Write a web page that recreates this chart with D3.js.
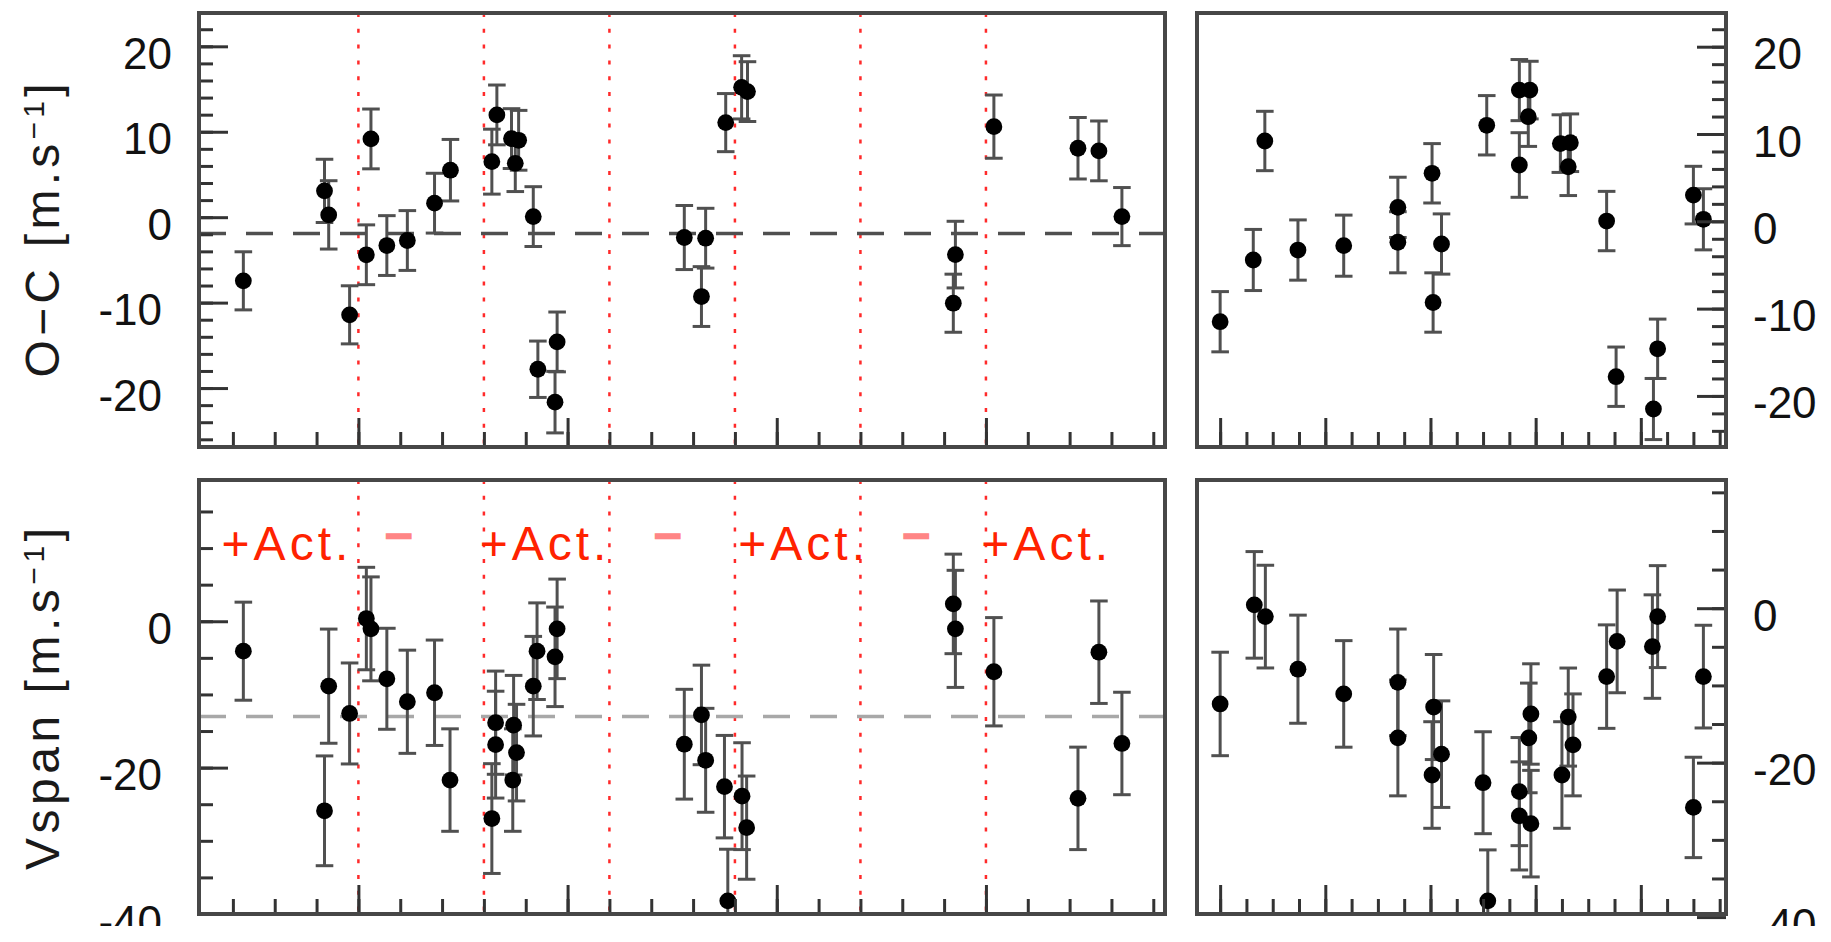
<!DOCTYPE html>
<html>
<head>
<meta charset="utf-8">
<script src="https://cdn.jsdelivr.net/npm/d3@7"></script>
<style>
  body { margin: 0; background: #fff; }
  svg { display: block; }
</style>
</head>
<body>
<svg id="chart"></svg>
<script>
// O-C residuals against time (top left)
const ocTime  = [-27.5, -8.1, -7.1, -2.1, 1.9, 3.0, 6.8, 11.7, 18.2, 22.0, 31.9, 33.1, 36.6, 38.3, 37.5, 41.8, 42.9, 47.5, 47.0,
                 77.9, 83.0, 82.0, 87.8, 91.6, 93.0, 142.7, 142.2, 151.9, 172.0, 177.0, 182.5];
const ocValue = [-7.45, 3.08, 0.27, -11.43, -4.4, 9.16, -3.32, -2.73, 1.64, 5.5, 6.5, 11.97, 9.2, 9.0, 6.3, 0.07, -17.8, -14.6, -21.65,
                 -2.38, -2.46, -9.29, 11.07, 15.2, 14.7, -4.38, -10.07, 10.6, 8.07, 7.76, 0.07];
const ocError = [3.4, 3.7, 4.0, 3.4, 3.5, 3.5, 3.5, 3.5, 3.5, 3.6, 3.8, 3.5, 3.5, 3.5, 3.3, 3.5, 3.3, 3.5, 3.6,
                 3.75, 3.5, 3.5, 3.4, 3.7, 3.5, 3.9, 3.4, 3.7, 3.6, 3.5, 3.4];

// Vspan against time (bottom left)
const spanTime  = [-27.5, -7.1, -8.1, -2.1, 1.9, 3.0, 6.8, 11.7, 18.2, 21.9, 31.9, 32.8, 32.8, 37.1, 37.8, 36.9, 41.8, 42.7, 47.5, 47.0,
                   77.9, 82.0, 83.0, 87.5, 88.3, 91.7, 92.8, 142.2, 142.7, 151.9, 172.0, 177.0, 182.5];
const spanValue = [-4.09, -8.87, -25.9, -12.6, 0.37, -1.04, -7.86, -11.0, -9.77, -21.7, -26.96, -13.86, -16.86, -14.2, -17.95, -21.7, -8.87, -4.09, -1.04, -4.86,
                   -16.8, -12.8, -19.0, -22.6, -38.2, -23.9, -28.2, 2.37, -1.04, -6.9, -24.2, -4.23, -16.7];
const spanError = [6.7, 7.8, 7.5, 6.9, 7.0, 7.1, 6.9, 7.05, 7.2, 7.0, 7.5, 7.05, 7.3, 6.8, 6.6, 7.0, 6.8, 6.6, 6.8, 6.8,
                   7.5, 6.8, 7.1, 7.0, 7.05, 7.3, 7.05, 6.8, 8.0, 7.4, 7.0, 7.0, 7.0];

// O-C folded on phase (top right)
const ocPhase      = [0.0, 0.063, 0.085, 0.148, 0.235, 0.338, 0.338, 0.403, 0.421, 0.405, 0.507, 0.569, 0.589, 0.586, 0.569,
                      0.647, 0.666, 0.662, 0.735, 0.753, 0.832, 0.824, 0.9, 0.919];
const ocPhaseValue = [-11.5, -4.43, 9.2, -3.29, -2.79, 1.6, -2.4, 5.5, -2.6, -9.3, 11.0, 15.03, 15.03, 11.98, 6.45,
                      8.9, 9.0, 6.25, 0.03, -17.8, -14.6, -21.5, 3.0, 0.23];
const ocPhaseError = [3.45, 3.5, 3.4, 3.45, 3.5, 3.45, 3.5, 3.4, 3.45, 3.4, 3.4, 3.5, 3.3, 3.4, 3.7,
                      3.3, 3.3, 3.3, 3.4, 3.4, 3.4, 3.5, 3.3, 3.5];

// Vspan folded on phase (bottom right)
const spanPhase      = [0.0, 0.065, 0.086, 0.148, 0.235, 0.338, 0.338, 0.406, 0.421, 0.403, 0.5, 0.509, 0.569, 0.569, 0.591,
                        0.591, 0.587, 0.65, 0.662, 0.671, 0.735, 0.755, 0.822, 0.832, 0.919, 0.9];
const spanPhaseValue = [-12.4, 0.43, -1.09, -7.9, -11.1, -9.6, -16.8, -12.8, -18.9, -21.6, -22.6, -37.9, -23.75, -26.9, -27.9,
                        -13.7, -16.8, -21.6, -14.1, -17.7, -8.86, -4.3, -4.97, -1.09, -8.86, -25.8];
const spanPhaseError = [6.7, 6.9, 6.65, 7.0, 6.9, 6.9, 7.5, 6.8, 6.9, 6.9, 6.6, 6.6, 7.0, 7.0, 6.9,
                        6.5, 7.1, 6.9, 6.35, 6.6, 6.7, 6.65, 6.7, 6.6, 6.65, 6.5];

// axes
const timeDomain = [-38.1, 192.8];
const phaseDomain = [-0.044, 0.962];
const ocDomain = [-26.9, 23.9];
const ocPhaseDomain = [-25.85, 23.86];
const spanDomain = [-40, 19.3];
const spanPhaseDomain = [-39.6, 16.6];
const timeMajor = [0, 50, 100, 150];
const timeMinor = d3.range(-30, 191, 10);
const phaseMajor = [0, 0.2, 0.4, 0.6, 0.8];
const phaseMinor = d3.range(0, 20).map(i => i * 0.05);
const ocLabels = [20, 10, 0, -10, -20];
const ocMinor = d3.range(-26, 24, 2);
const spanLabels = [0, -20, -40];
const spanMinor = d3.range(-40, 20, 5);

// activity markers
const activityEdges = [0, 30, 60, 90, 120, 150];
const activityText = ["+Act.", "\u2212", "+Act.", "\u2212", "+Act.", "\u2212", "+Act."];
const activityAt   = [-32.7, 9.6, 29.0, 73.9, 90.8, 133.3, 148.9];
const ocReference = -1.9;
const spanReference = -13.0;

const W = 1831, H = 926;
const svg = d3.select('#chart').attr('width', W).attr('height', H);
const font = '"Liberation Sans", Arial, Helvetica, sans-serif';

const leftX = [199, 1165], rightX = [1197, 1726];
const topY = [13, 447], botY = [480, 914];

let xTime = d3.scaleLinear().domain(timeDomain).range(leftX);
let xPhase = d3.scaleLinear().domain(phaseDomain).range(rightX);

let yOc = d3.scaleLinear().domain(ocDomain).range([topY[1], topY[0]]);
let yOcPhase = d3.scaleLinear().domain(ocPhaseDomain).range([topY[1], topY[0]]);
let ySpan = d3.scaleLinear().domain(spanDomain).range([botY[1], botY[0]]);
let ySpanPhase = d3.scaleLinear().domain(spanPhaseDomain).range([botY[1], botY[0]]);

function panel(id, x, y, xs, ys, errs, xsc, ysc, opts) {
    let g = svg.append('g').attr('id', id);
    let x0 = x.range()[0], x1 = x.range()[1];
    let y0 = y.range()[1], y1 = y.range()[0];

    g.append('clipPath').attr('id', id + '-clip')
        .append('rect').attr('x', x0).attr('y', y0).attr('width', x1 - x0).attr('height', y1 - y0);
    let inner = g.append('g').attr('clip-path', 'url(#' + id + '-clip)');

    // red dotted activity boundaries
    if (opts.edges) {
        inner.selectAll('line.edge')
            .data(opts.edges).enter().append('line')
            .attr('class', 'edge')
            .attr('x1', d => x(d)).attr('x2', d => x(d))
            .attr('y1', y0).attr('y2', y1)
            .attr('stroke', '#ff2a2a').attr('stroke-width', 2.5)
            .attr('stroke-dasharray', '4 11.8');
    }

    // dashed reference level
    if (opts.reference !== undefined) {
        inner.append('line')
            .attr('x1', x0).attr('x2', x1)
            .attr('y1', y(opts.reference)).attr('y2', y(opts.reference))
            .attr('stroke', opts.refColor).attr('stroke-width', 3.5)
            .attr('stroke-dasharray', '27 20');
    }

    let pts = xs.map((d, i) => ({x: d, y: ys[i], e: errs[i]}));

    // error bars
    let bars = inner.append('g').attr('stroke', '#505050').attr('stroke-width', 3);
    bars.selectAll('line.bar')
        .data(pts).enter().append('line')
        .attr('x1', d => x(d.x)).attr('x2', d => x(d.x))
        .attr('y1', d => y(d.y - d.e)).attr('y2', d => y(d.y + d.e));
    bars.selectAll('line.capTop')
        .data(pts).enter().append('line')
        .attr('x1', d => x(d.x) - 8.8).attr('x2', d => x(d.x) + 8.8)
        .attr('y1', d => y(d.y + d.e)).attr('y2', d => y(d.y + d.e));
    bars.selectAll('line.capBot')
        .data(pts).enter().append('line')
        .attr('x1', d => x(d.x) - 8.8).attr('x2', d => x(d.x) + 8.8)
        .attr('y1', d => y(d.y - d.e)).attr('y2', d => y(d.y - d.e));

    // points
    inner.append('g').selectAll('circle')
        .data(pts).enter().append('circle')
        .attr('r', 8.4).attr('fill', '#000')
        .attr('cx', d => x(d.x))
        .attr('cy', d => y(d.y));

    // x ticks, pointing up from the bottom frame
    let axisStyle = s => {
        s.select('.domain').remove();
        s.selectAll('line').attr('stroke', '#333').attr('stroke-width', 3);
        s.selectAll('text').remove();
    };
    g.append('g').attr('transform', 'translate(0,' + y1 + ')')
        .call(d3.axisBottom(x).tickValues(xsc.minor.filter(v => v > x.domain()[0] && v < x.domain()[1])).tickSizeInner(-15).tickSizeOuter(0))
        .call(axisStyle);
    g.append('g').attr('transform', 'translate(0,' + y1 + ')')
        .call(d3.axisBottom(x).tickValues(xsc.major).tickSizeInner(-29).tickSizeOuter(0))
        .call(axisStyle);

    // y ticks, inward from the labelled side
    let side = opts.rightSide;
    let ax = side ? x1 : x0;
    let makeAxis = side ? d3.axisRight : d3.axisLeft;
    g.append('g').attr('transform', 'translate(' + ax + ',0)')
        .call(makeAxis(y).tickValues(ysc.minor.filter(v => v > y.domain()[0] && v < y.domain()[1])).tickSizeInner(-14).tickSizeOuter(0))
        .call(axisStyle);
    let lab = g.append('g').attr('transform', 'translate(' + ax + ',0)')
        .call(makeAxis(y).tickValues(ysc.major).tickSizeInner(-29).tickSizeOuter(0).tickPadding(27)
            .tickFormat(d => String(d)));
    lab.select('.domain').remove();
    lab.selectAll('line').attr('stroke', '#333').attr('stroke-width', 3);
    lab.selectAll('text')
        .attr('font-family', font).attr('font-size', 44).attr('fill', '#111')
        .attr('dy', '0.5em')
        .attr('dx', d => (!side && d < 0) ? -10 : 0);

    // frame
    g.append('rect')
        .attr('x', x0).attr('y', y0).attr('width', x1 - x0).attr('height', y1 - y0)
        .attr('fill', 'none').attr('stroke', '#474747').attr('stroke-width', 4);
    return g;
}

let timeTicks = {major: timeMajor, minor: timeMinor};
let phaseTicks = {major: phaseMajor, minor: phaseMinor};

panel('oc', xTime, yOc, ocTime, ocValue, ocError, timeTicks, {major: ocLabels, minor: ocMinor},
      {edges: activityEdges, reference: ocReference, refColor: '#4f4f4f', rightSide: false});
panel('ocphase', xPhase, yOcPhase, ocPhase, ocPhaseValue, ocPhaseError, phaseTicks, {major: ocLabels, minor: ocMinor},
      {rightSide: true});
panel('span', xTime, ySpan, spanTime, spanValue, spanError, timeTicks, {major: spanLabels, minor: spanMinor},
      {edges: activityEdges, reference: spanReference, refColor: '#a8a8a8', rightSide: false});
panel('spanphase', xPhase, ySpanPhase, spanPhase, spanPhaseValue, spanPhaseError, phaseTicks, {major: spanLabels, minor: spanMinor},
      {rightSide: true});

// activity labels in the Vspan panel
svg.append('g').selectAll('text')
    .data(activityText).enter().append('text')
    .attr('x', (d, i) => xTime(activityAt[i]))
    .attr('y', d => d === '+Act.' ? 560 : 552)
    .attr('text-anchor', d => d === '+Act.' ? 'start' : 'middle')
    .attr('font-family', font).attr('font-size', 48)
    .attr('letter-spacing', d => d === '+Act.' ? 4 : 0)
    .attr('fill', d => d === '+Act.' ? '#ff2200' : '#ff8585')
    .attr('stroke', d => d === '+Act.' ? 'none' : '#ff8585')
    .attr('stroke-width', 2.5)
    .text(d => d);

// y titles
function yTitle(main, cx, cy, len) {
    let t = svg.append('text')
        .attr('transform', 'translate(' + cx + ',' + cy + ') rotate(-90)')
        .attr('text-anchor', 'middle')
        .attr('font-family', font).attr('font-size', 48).attr('fill', '#1a1a1a')
        .attr('textLength', len).attr('lengthAdjust', 'spacing');
    t.append('tspan').text(main + ' [m.s');
    t.append('tspan').attr('font-size', 30).attr('dy', -15).text('\u22121');
    t.append('tspan').attr('dy', 15).text(']');
}
yTitle('O\u2212C', 59, 230.5, 294);
yTitle('Vspan', 59, 699, 342);
</script>
</body>
</html>
